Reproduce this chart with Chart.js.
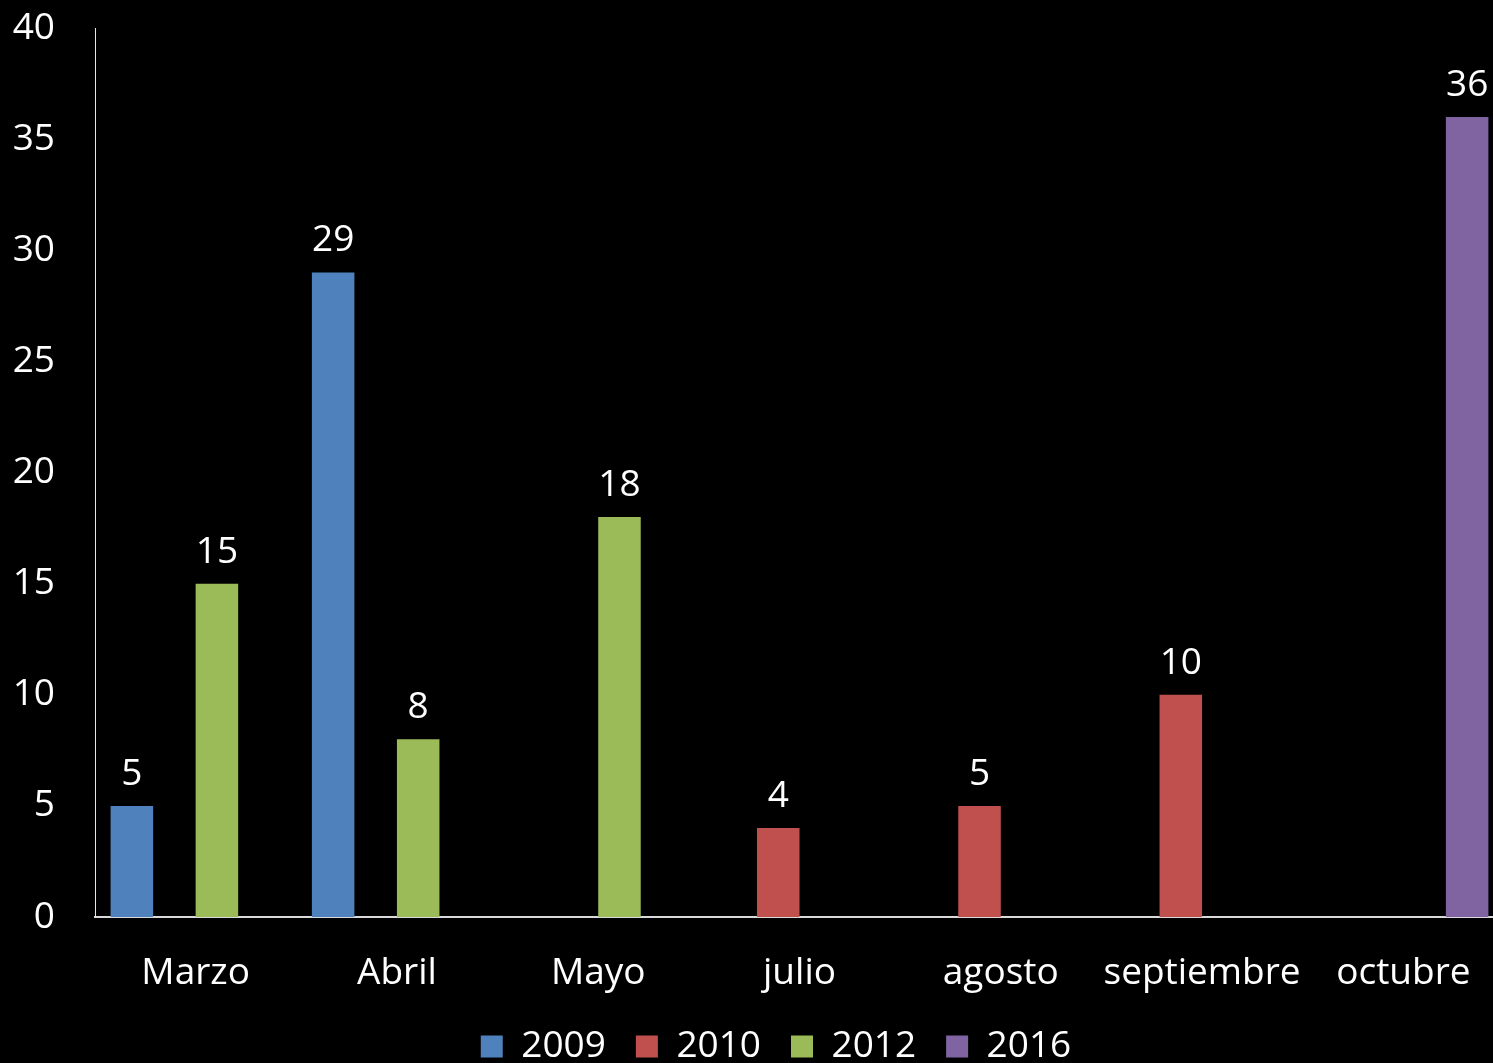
<!DOCTYPE html>
<html>
<head>
<meta charset="utf-8">
<script src="https://cdn.jsdelivr.net/npm/chart.js@4/dist/chart.umd.min.js"></script>
<style>
    html, body { margin: 0; padding: 0; background: #000; overflow: hidden; }
    #wrap { width: 1546px; height: 1072px; position: relative; }
</style>
</head>
<body>
<div id="wrap"><canvas id="chart"></canvas></div>
<script>
    // --- Data ---
    const months = ['Marzo', 'Abril', 'Mayo', 'julio', 'agosto', 'septiembre', 'octubre'];
    const years = ['2009', '2010', '2012', '2016'];
    const values2009 = [5, 29, null, null, null, null, null];
    const values2010 = [null, null, null, 4, 5, 10, null];
    const values2012 = [15, 8, 18, null, null, null, null];
    const values2016 = [null, null, null, null, null, null, 36];
    const yTicks = [0, 5, 10, 15, 20, 25, 30, 35, 40];

    const colors = ['#4F81BD', '#C0504D', '#9BBB59', '#8064A2'];
    const series = [values2009, values2010, values2012, values2016];
    const FONT = "'Open Sans', sans-serif";

    // draws the value above each bar
    const barValues = {
        id: 'barValues',
        afterDatasetsDraw(chart) {
            const ctx = chart.ctx;
            ctx.save();
            ctx.fillStyle = '#ffffff';
            ctx.font = '37px ' + FONT;
            ctx.textAlign = 'center';
            ctx.textBaseline = 'alphabetic';
            chart.data.datasets.forEach((ds, i) => {
                const meta = chart.getDatasetMeta(i);
                meta.data.forEach((bar, j) => {
                    const v = ds.data[j];
                    if (v === null || v === undefined) return;
                    ctx.fillText(String(v), bar.x, bar.y - 21);
                });
            });
            ctx.restore();
        }
    };

    // the legend sits a bit right of the centre in the original
    const legendShift = {
        id: 'legendShift',
        afterLayout(chart) {
            if (chart.legend) {
                chart.legend.left += 24;
                chart.legend.right += 24;
                chart.legend.top += 3;
                chart.legend.bottom += 3;
            }
        }
    };

    new Chart(document.getElementById('chart'), {
        type: 'bar',
        data: {
            labels: months,
            datasets: years.map((y, i) => ({
                label: y,
                data: series[i],
                backgroundColor: colors[i],
                borderWidth: 0,
                categoryPercentage: 0.845,
                barPercentage: 1
            }))
        },
        options: {
            responsive: true,
            maintainAspectRatio: false,
            animation: false,
            layout: { padding: { top: 28, left: 0, right: 42, bottom: 0 } },
            scales: {
                x: {
                    grid: { display: false, drawTicks: false },
                    border: { display: true, color: '#d9d9d9', width: 2 },
                    afterFit(scale) { scale.height = 78; },
                    ticks: { color: '#ffffff', padding: 34, font: { family: FONT, size: 37 }, maxRotation: 0 }
                },
                y: {
                    min: 0,
                    max: 40,
                    afterBuildTicks(scale) { scale.ticks = yTicks.map(v => ({ value: v })); },
                    afterFit(scale) {
                        scale.width = 95;
                        // the big tick padding should not push the plot down
                        scale.paddingTop = 22;
                        scale.paddingBottom = 22;
                    },
                    grid: { display: false, drawTicks: false },
                    border: { display: true, color: '#e6e6e6', width: 1 },
                    ticks: { color: '#ffffff', padding: 40, font: { family: FONT, size: 37 } }
                }
            },
            plugins: {
                legend: {
                    position: 'bottom',
                    labels: {
                        color: '#ffffff',
                        boxWidth: 22,
                        boxHeight: 22,
                        padding: 30,
                        font: { family: FONT, size: 37 }
                    }
                },
                tooltip: { enabled: false }
            }
        },
        plugins: [barValues, legendShift]
    });
</script>
</body>
</html>
